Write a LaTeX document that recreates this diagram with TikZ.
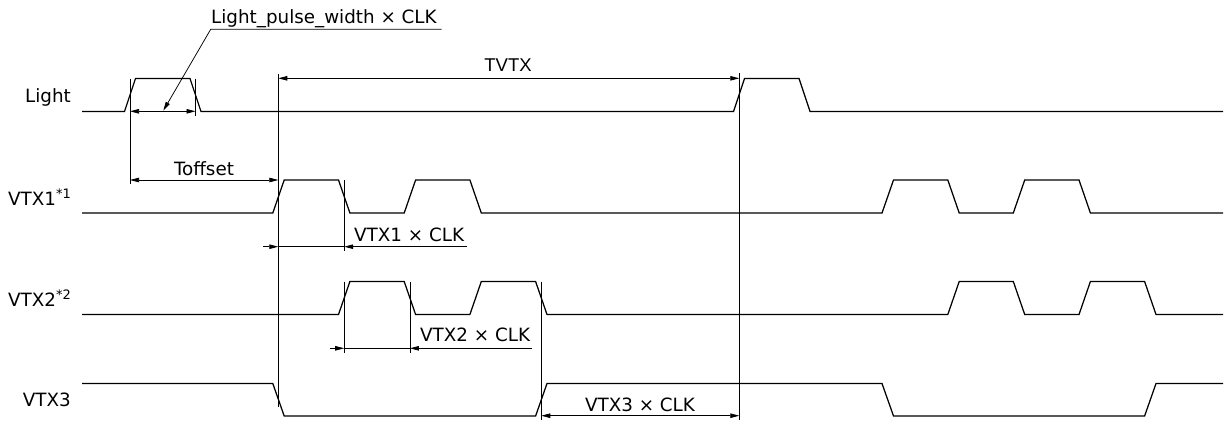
\documentclass[tikz,border=0pt]{standalone}
\usepackage{fontspec}
\setmainfont{DejaVu Sans}
\newfontfamily\arialfont{Liberation Sans}
\usetikzlibrary{arrows.meta}
\begin{document}
\begin{tikzpicture}[x=1pt,y=-1pt,
  signal/.style={line width=1.25pt, line join=miter},
  dim/.style={line width=0.75pt},
  tipr/.style={-{Triangle[length=9pt,width=4.5pt]}},
  tipb/.style={{Triangle[length=9pt,width=4.5pt]}-{Triangle[length=9pt,width=4.5pt]}},
  lbl/.style={font=\fontsize{18.3}{20}\selectfont, inner sep=0pt}]
\useasboundingbox (0,0) rectangle (1225,421);

% ---------- signal names ----------
\node[lbl, anchor=base east] (nLight) at (71,102.7) {Light};
\node[lbl, anchor=base east] (nV1) at (71,205) {VTX1{\fontsize{13}{13}\selectfont\raisebox{6.5pt}{*1}}};
\node[lbl, anchor=base east] (nV2) at (71,306) {VTX2{\fontsize{13}{13}\selectfont\raisebox{6.5pt}{*2}}};
\node[lbl, anchor=base east] (nV3) at (71,406.7) {VTX3};

% ---------- waveforms ----------
\draw[signal] (82,111.5) -- (124.5,111.5) -- (135.5,78.5) -- (190,78.5) -- (201,111.5)
  -- (733.5,111.5) -- (744.5,78.5) -- (799,78.5) -- (810,111.5) -- (1223,111.5);
\draw[signal] (82,213) -- (272.8,213) -- (284.2,180) -- (338.5,180) -- (349.9,213)
  -- (404.2,213) -- (415.6,180) -- (469.9,180) -- (481.3,213) -- (882,213)
  -- (893.5,180) -- (947.8,180) -- (959.2,213) -- (1013.3,213) -- (1024.7,180)
  -- (1079,180) -- (1090.4,213) -- (1223,213);
\draw[signal] (82,314.5) -- (338.5,314.5) -- (349.9,281.5) -- (404.2,281.5) -- (415.6,314.5)
  -- (469.9,314.5) -- (481.3,281.5) -- (535.6,281.5) -- (547,314.5) -- (947.8,314.5)
  -- (959.2,281.5) -- (1013.3,281.5) -- (1024.7,314.5) -- (1079,314.5) -- (1090.4,281.5)
  -- (1144.6,281.5) -- (1156,314.5) -- (1223,314.5);
\draw[signal] (82,383.5) -- (272.8,383.5) -- (284.2,416) -- (535.6,416) -- (547,383.5)
  -- (882,383.5) -- (893.5,416) -- (1144.6,416) -- (1156,383.5) -- (1223,383.5);

% ---------- extension lines ----------
\coordinate (e1t) at (130,78.5);   \coordinate (e1b) at (130,184);
\coordinate (e2t) at (195.5,78.5); \coordinate (e2b) at (195.5,116);
\coordinate (e3t) at (278.3,74);   \coordinate (e3b) at (278.3,407);
\coordinate (e4t) at (739.3,73);   \coordinate (e4b) at (739.3,420);
\coordinate (e5t) at (344.2,180);  \coordinate (e5b) at (344.2,251);
\coordinate (e6t) at (344.2,281.5);\coordinate (e6b) at (344.2,352.7);
\coordinate (e7t) at (409.9,281.5);\coordinate (e7b) at (409.9,352.7);
\coordinate (e8t) at (541.3,281.5);\coordinate (e8b) at (541.3,420);
\foreach \n in {1,...,8} \draw[dim] (e\n t) -- (e\n b);

% ---------- dimensions ----------
% Light pulse width
\coordinate (lpA) at (130,111.3); \coordinate (lpB) at (195.5,111.3);
\draw[dim, tipb] (lpA) -- (lpB);
\coordinate (ldE) at (441.7,29.3); \coordinate (ldK) at (210.7,29.3); \coordinate (ldT) at (163.3,110.7);
\node[lbl, anchor=base west] (tLP) at (211,23.3) {Light\_pulse\_width × CLK};
\draw[dim, tipr] (ldE) -- (ldK) -- (ldT);

% TVTX
\coordinate (tvA) at (278.3,78.3); \coordinate (tvB) at (739.3,78.3);
\draw[dim, tipb] (tvA) -- (tvB);
\node[lbl, font=\arialfont\fontsize{18.5}{20}\selectfont, anchor=base] (tTV) at (508,71.7) {TVTX};

% Toffset
\coordinate (toA) at (130,180); \coordinate (toB) at (278.3,180);
\draw[dim, tipb] (toA) -- (toB);
\node[lbl, anchor=base] (tTO) at (204,175.7) {Toffset};

% VTX1 x CLK
\coordinate (v1o) at (263,246.7); \coordinate (v1a) at (278.3,246.7);
\coordinate (v1b) at (344.2,246.7); \coordinate (v1e) at (466.7,246.7);
\draw[dim, tipr] (v1o) -- (v1a);
\draw[dim] (v1a) -- (v1b);
\draw[dim, tipr] (v1e) -- (v1b);
\node[lbl, anchor=base west] (tV1) at (354,241) {VTX1 × CLK};

% VTX2 x CLK
\coordinate (v2o) at (330,348.3); \coordinate (v2a) at (344.2,348.3);
\coordinate (v2b) at (409.9,348.3); \coordinate (v2e) at (532.3,348.3);
\draw[dim, tipr] (v2o) -- (v2a);
\draw[dim] (v2a) -- (v2b);
\draw[dim, tipr] (v2e) -- (v2b);
\node[lbl, anchor=base west] (tV2) at (420,341.7) {VTX2 × CLK};

% VTX3 x CLK
\coordinate (v3a) at (541.3,415.7); \coordinate (v3b) at (739.3,415.7);
\draw[dim, tipb] (v3a) -- (v3b);
\node[lbl, anchor=base] (tV3) at (640,411.7) {VTX3 × CLK};
\end{tikzpicture}
\end{document}
